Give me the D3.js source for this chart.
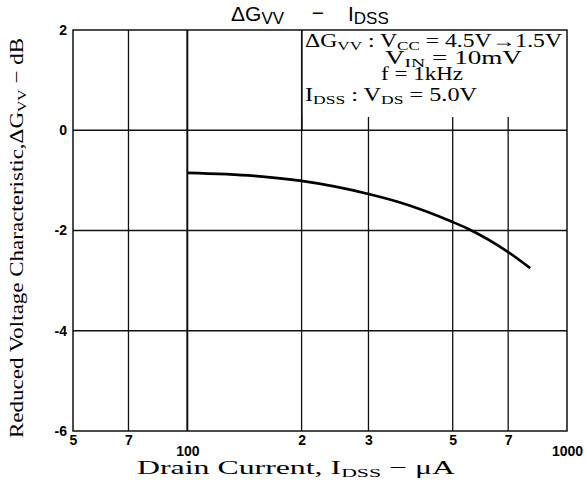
<!DOCTYPE html>
<html><head><meta charset="utf-8">
<script src="https://cdn.jsdelivr.net/npm/d3@7"></script>
<style>body{margin:0;background:#fff}svg{display:block}</style>
</head><body>
<svg id="c" width="587" height="486"></svg>
<script>
const idss = [100,150,200,300,360,500,550,700,800];
const dgvv = [-0.85,-0.91,-1.01,-1.27,-1.43,-1.83,-1.97,-2.43,-2.75];
const xTickVals = [50,70,100,200,300,500,700,1000];
const xTickLabels = ["5","7","100","2","3","5","7","1000"];
const xGridVals = [70,100,200,300,500,700];
const yTickVals = [-6,-4,-2,0,2];
const yTickLabels = ["-6","-4","-2","0","2"];
const yGridVals = [-4,-2,0];

const svg = d3.select("#c");
const L=73,R=567,T=30,B=431;
const x = d3.scaleLog().domain([50,1000]).range([L,R]);
const y = d3.scaleLinear().domain([-6,2]).range([B,T]);

// grid
svg.append("g").selectAll("line").data(xGridVals).join("line")
  .attr("x1",d=>x(d)).attr("x2",d=>x(d)).attr("y1",T).attr("y2",B)
  .attr("stroke","#111").attr("stroke-width",d=>d===100?2:1.3);
svg.append("g").selectAll("line").data(yGridVals).join("line")
  .attr("x1",L).attr("x2",R).attr("y1",d=>y(d)).attr("y2",d=>y(d))
  .attr("stroke","#111").attr("stroke-width",1.4);

// annotation box (white) hiding grid
svg.append("rect").attr("x",302).attr("y",T).attr("width",R-302).attr("height",87).attr("fill","#fff");
svg.append("line").attr("x1",302).attr("x2",302).attr("y1",T).attr("y2",y(0)).attr("stroke","#111").attr("stroke-width",1.4);

// frame
svg.append("rect").attr("x",L).attr("y",T).attr("width",R-L).attr("height",B-T)
  .attr("fill","none").attr("stroke","#111").attr("stroke-width",1.5);

// curve
const data = idss.map((v,i)=>[v,dgvv[i]]);
svg.append("path").datum(data)
  .attr("d",d3.line().x(d=>x(d[0])).y(d=>y(d[1])).curve(d3.curveMonotoneX))
  .attr("fill","none").attr("stroke","#000").attr("stroke-width",2.6);

// x axis
const xa = svg.append("g").attr("transform",`translate(0,${B})`)
  .call(d3.axisBottom(x).tickValues(xTickVals).tickSize(0).tickFormat((d,i)=>xTickLabels[i]));
xa.select(".domain").remove();
xa.selectAll("text").attr("font-family","Liberation Sans Narrow, Liberation Sans, sans-serif")
  .attr("font-weight","bold").attr("font-size",14).attr("fill","#000")
  .attr("dy",(d)=> (d===100||d===1000)?"1.55em":"0.8em");
// y axis
const ya = svg.append("g").attr("transform",`translate(${L},0)`)
  .call(d3.axisLeft(y).tickValues(yTickVals).tickSize(0).tickPadding(6).tickFormat((d,i)=>yTickLabels[i]));
ya.select(".domain").remove();
ya.selectAll("text").attr("font-family","Liberation Sans Narrow, Liberation Sans, sans-serif")
  .attr("font-weight","bold").attr("font-size",14).attr("fill","#000");

// title
const tf = "Liberation Sans, sans-serif";
const t1 = svg.append("text").attr("x",231).attr("y",21).attr("font-family",tf).attr("font-size",21).attr("fill","#000");
t1.append("tspan").text("ΔG");
t1.append("tspan").attr("font-size",17).attr("dy",3).text("VV");
svg.append("text").attr("x",318).attr("y",20).attr("text-anchor","middle").attr("font-family",tf).attr("font-size",21).text("−");
const t2 = svg.append("text").attr("x",348).attr("y",21).attr("font-family",tf).attr("font-size",21).attr("fill","#000");
t2.append("tspan").text("I");
t2.append("tspan").attr("font-size",17).attr("dy",3).text("DSS");

const serif="Liberation Serif, DejaVu Serif, serif";
function sub(el,txt){el.append("tspan").attr("font-size",13).attr("dy",2.5).text(txt);}
function up(el,txt){el.append("tspan").attr("dy",-2.5).text(txt);}
// annotation lines
let a1 = svg.append("text").attr("x",305).attr("y",47).attr("font-family",serif).attr("font-size",18)
  .attr("textLength",257).attr("lengthAdjust","spacingAndGlyphs");
a1.append("tspan").text("ΔG"); sub(a1,"VV"); up(a1," : V"); sub(a1,"CC"); up(a1," = 4.5V→1.5V");
let a2 = svg.append("text").attr("x",385).attr("y",64).attr("font-family",serif).attr("font-size",18)
  .attr("textLength",137).attr("lengthAdjust","spacingAndGlyphs");
a2.append("tspan").text("V"); sub(a2,"IN"); up(a2," = 10mV");
let a3 = svg.append("text").attr("x",381).attr("y",80).attr("font-family",serif).attr("font-size",18)
  .attr("textLength",82).attr("lengthAdjust","spacingAndGlyphs").text("f = 1kHz");
let a4 = svg.append("text").attr("x",305).attr("y",101).attr("font-family",serif).attr("font-size",18)
  .attr("textLength",172).attr("lengthAdjust","spacingAndGlyphs");
a4.append("tspan").text("I"); sub(a4,"DSS"); up(a4," : V"); sub(a4,"DS"); up(a4," = 5.0V");

// x label
let xl = svg.append("text").attr("x",137).attr("y",474).attr("font-family",serif).attr("font-size",19)
  .attr("textLength",318).attr("lengthAdjust","spacingAndGlyphs");
xl.append("tspan").text("Drain Current, I"); sub(xl,"DSS"); up(xl," − μA");
// y label
let yl = svg.append("text").attr("transform","translate(23,438) rotate(-90)").attr("font-family",serif).attr("font-size",19)
  .attr("textLength",400).attr("lengthAdjust","spacingAndGlyphs");
yl.append("tspan").text("Reduced Voltage Characteristic,ΔG"); sub(yl,"VV"); up(yl," − dB");
</script>
</body></html>
